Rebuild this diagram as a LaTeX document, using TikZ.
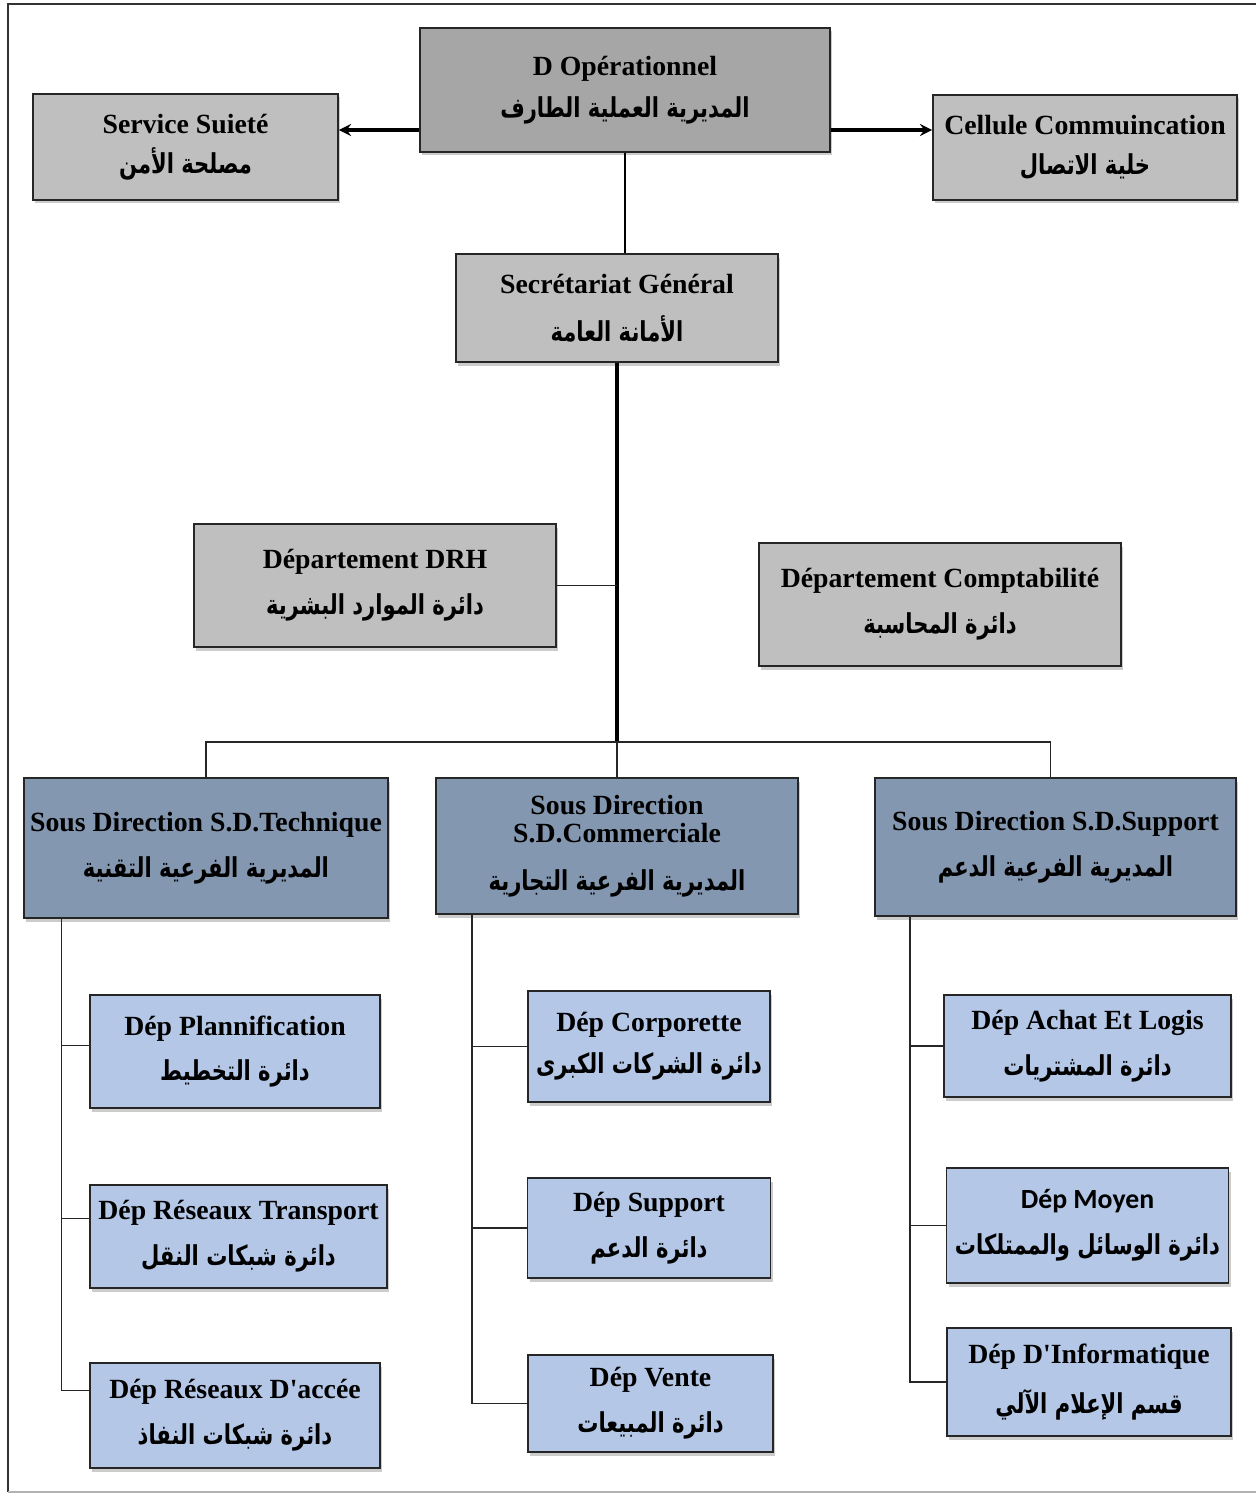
\documentclass[tikz,border=0pt]{standalone}
\usepackage{fontspec}
\usepackage{graphicx}
\setmainfont{Liberation Serif}
\newfontfamily\arabicfont[Script=Arabic]{DejaVu Sans}
\newfontfamily\calibrifont{Carlito}
\TeXXeTstate=1
\usetikzlibrary{shadows}
\newcommand{\artxt}[1]{\scalebox{1}[1.3]{\arabicfont\fontsize{12}{14}\selectfont\beginR #1\endR}}
\definecolor{topgrey}{HTML}{A6A6A6}
\definecolor{boxgrey}{HTML}{BFBFBF}
\definecolor{sdblue}{HTML}{8497B0}
\definecolor{depblue}{HTML}{B4C7E7}

\begin{document}
\begin{tikzpicture}[node distance=2cm, every node/.style={align=center, font=\bfseries\fontsize{15.8}{16}\selectfont}, >=stealth]
    % 样式
    \tikzstyle{box} = [rectangle, draw=black!85, line width=1.1pt, drop shadow={shadow xshift=0.04cm, shadow yshift=-0.07cm, opacity=0.4}]
    \tikzstyle{greybox} = [box, fill=boxgrey, minimum width=7.24cm, minimum height=2.46cm]
    \tikzstyle{sdbox} = [box, fill=sdblue, minimum width=7.24cm, minimum height=2.76cm]
    \tikzstyle{depbox} = [box, fill=depblue, minimum height=2.1cm]
    \tikzstyle{arrow} = [line width=2pt, ->]
    \tikzstyle{trunk} = [line width=2.5pt]
    \tikzstyle{line} = [line width=0.9pt, black!85]

    \useasboundingbox (0,0) rectangle (25.12,-29.88);
    \draw[line width=1.1pt, black!80] (25.12,-0.08) -- (0.16,-0.08) -- (0.16,-29.84);
    \draw[line width=1pt, black!30] (0.16,-29.84) -- (25.12,-29.84);

    % 顶层
    \node[greybox, fill=topgrey, minimum width=8.2cm, minimum height=2.48cm] (dop) at (12.5,-1.8) {D Opérationnel\\[8pt]\artxt{المديرية العملية الطارف}};
    \node[greybox, left of=dop, xshift=-6.79cm, yshift=-1.14cm, minimum width=6.1cm, minimum height=2.12cm] (secu) {Service Suieté\\[7pt]\artxt{مصلحة الأمن}};
    \node[greybox, right of=dop, xshift=7.2cm, yshift=-1.15cm, minimum width=6.08cm, minimum height=2.1cm] (comm) {Cellule Commuincation\\[7pt]\artxt{خلية الاتصال}};

    \node[greybox, below of=dop, xshift=-0.16cm, yshift=-2.36cm, minimum width=6.44cm, minimum height=2.16cm] (sg) {Secrétariat Général\\[11pt]\artxt{الأمانة العامة}};

    \node[greybox, below of=sg, xshift=-4.84cm, yshift=-3.55cm] (drh) {Département DRH\\[10pt]\artxt{دائرة الموارد البشرية}};
    \node[greybox, below of=sg, xshift=6.46cm, yshift=-3.93cm] (compta) {Département Comptabilité\\[10pt]\artxt{دائرة المحاسبة}};

    % 三个分局
    \node[sdbox, below of=sg, yshift=-8.76cm, minimum height=2.72cm] (sdc) {Sous Direction\\S.D.Commerciale\\[11pt]\artxt{المديرية الفرعية التجارية}};
    \node[sdbox, left of=sdc, xshift=-6.22cm, yshift=-0.04cm, minimum height=2.8cm] (sdt) {Sous Direction S.D.Technique\\[10pt]\artxt{المديرية الفرعية التقنية}};
    \node[sdbox, right of=sdc, xshift=6.77cm, yshift=-0.02cm, minimum width=7.22cm] (sds) {Sous Direction S.D.Support\\[10pt]\artxt{المديرية الفرعية الدعم}};

    % 各部门
    \node[depbox, below of=sdt, xshift=0.58cm, yshift=-2.07cm, minimum width=5.8cm, minimum height=2.26cm] (plan) {Dép Plannification\\[10pt]\artxt{دائرة التخطيط}};
    \node[depbox, below of=plan, xshift=0.07cm, yshift=-1.7cm, minimum width=5.94cm, minimum height=2.06cm] (rtrans) {Dép Réseaux Transport\\[10pt]\artxt{دائرة شبكات النقل}};
    \node[depbox, below of=rtrans, xshift=-0.07cm, yshift=-1.58cm, minimum width=5.8cm] (racc) {Dép Réseaux D\textquotesingle accée\\[10pt]\artxt{دائرة شبكات النفاذ}};

    \node[depbox, below of=sdc, xshift=0.64cm, yshift=-2.01cm, minimum width=4.84cm, minimum height=2.22cm] (corp) {Dép Corporette\\[8pt]\artxt{دائرة الشركات الكبرى}};
    \node[depbox, below of=corp, yshift=-1.63cm, minimum width=4.86cm, minimum height=2cm] (supp) {Dép Support\\[10pt]\artxt{دائرة الدعم}};
    \node[depbox, below of=supp, xshift=0.03cm, yshift=-1.51cm, minimum width=4.9cm, minimum height=1.94cm] (vente) {Dép Vente\\[10pt]\artxt{دائرة المبيعات}};

    \node[depbox, below of=sds, xshift=0.64cm, yshift=-1.98cm, minimum width=5.74cm, minimum height=2.04cm] (achat) {Dép Achat Et Logis\\[10pt]\artxt{دائرة المشتريات}};
    \node[depbox, below of=achat, yshift=-1.59cm, minimum width=5.64cm, minimum height=2.3cm] (moyen) {{\calibrifont Dép Moyen}\\[10pt]\artxt{دائرة الوسائل والممتلكات}};
    \node[depbox, below of=moyen, xshift=0.03cm, yshift=-1.13cm, minimum width=5.68cm, minimum height=2.16cm] (info) {Dép D\textquotesingle Informatique\\[10pt]\artxt{قسم الإعلام الآلي}};

    % 连接线
    \draw[arrow] ([yshift=-0.8cm]dop.west) coordinate (al) -- (al -| secu.east);
    \draw[arrow] ([yshift=-0.8cm]dop.east) coordinate (ar) -- (ar -| comm.west);
    \draw[line width=1.4pt] (dop.south) -- (dop.south |- sg.north);

    \coordinate (bus) at ([yshift=0.7cm]sdc.north);
    \draw[trunk] (sg.south) -- (bus);
    \draw[line] (drh.east) -- (drh.east -| sg.south);
    \draw[line] (bus) -- (sdc.north);
    \draw[line] (sdt.north) |- (bus) -| ([xshift=-0.1cm]sds.north);

    \coordinate (tl) at ([xshift=0.76cm]sdt.south west);
    \coordinate (tm) at ([xshift=0.74cm]sdc.south west);
    \coordinate (tr) at ([xshift=0.72cm]sds.south west);
    \draw[line] (tl) |- ([yshift=0.12cm]plan.west);
    \draw[line] (tl) |- ([yshift=0.36cm]rtrans.west);
    \draw[line] (tl) |- ([yshift=0.5cm]racc.west);
    \draw[line] (tm) |- (corp.west);
    \draw[line] (tm) |- (supp.west);
    \draw[line] (tm) |- (vente.west);
    \draw[line] (tr) |- (achat.west);
    \draw[line] (tr) |- (moyen.west);
    \draw[line] (tr) |- (info.west);
\end{tikzpicture}
\end{document}
